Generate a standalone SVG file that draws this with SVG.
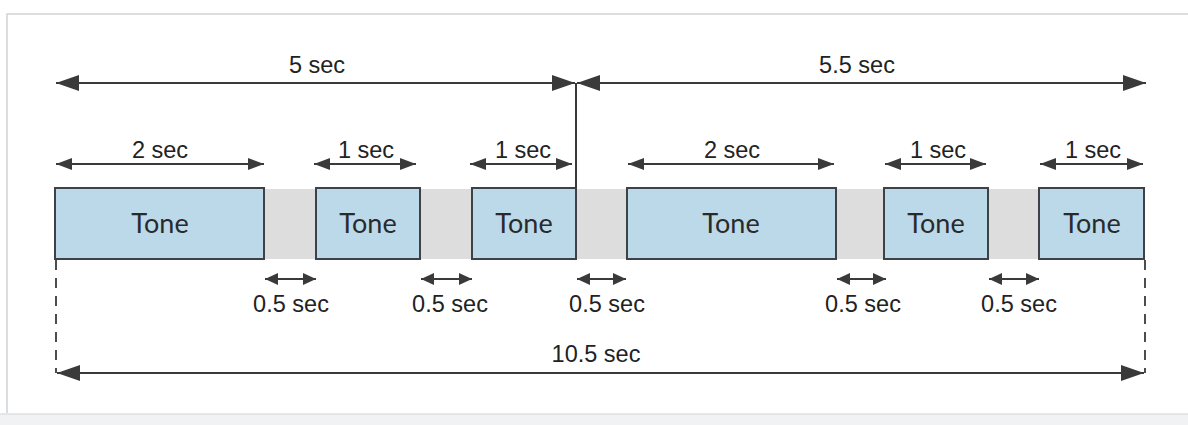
<svg xmlns="http://www.w3.org/2000/svg" width="1188" height="425" viewBox="0 0 1188 425">
  <style>
    .frame { fill: none; stroke: #cfd3d7; stroke-width: 1.5; }
    .gap { fill: #dddddd; stroke: none; }
    .tone { fill: #bcd9ea; stroke: #3e4246; stroke-width: 2; }
    .tone-label { font-family: Lato, "Open Sans", sans-serif; font-size: 27px; fill: #2a2a2a; text-anchor: middle; }
    .lbl { font-family: "Liberation Sans", Arial, sans-serif; font-size: 23.5px; fill: #222; text-anchor: middle; }
    .dim { stroke: #3a3a3a; stroke-width: 2; fill: none; }
    .big { marker-start: url(#bigHead); marker-end: url(#bigHead); }
    .mid { marker-start: url(#midHead); marker-end: url(#midHead); }
    .small { marker-start: url(#smallHead); marker-end: url(#smallHead); }
    .dash { stroke: #3a3a3a; stroke-width: 1.8; stroke-dasharray: 10 8; fill: none; }
  </style>
  <defs>
    <marker id="bigHead" viewBox="0 0 23 16" refX="23" refY="8" markerWidth="23" markerHeight="16" markerUnits="userSpaceOnUse" orient="auto-start-reverse">
      <path d="M0,0 L23,8 L0,16 Z" fill="#3a3a3a"/>
    </marker>
    <marker id="midHead" viewBox="0 0 16 12" refX="16" refY="6" markerWidth="16" markerHeight="12" markerUnits="userSpaceOnUse" orient="auto-start-reverse">
      <path d="M0,0 L16,6 L0,12 Z" fill="#3a3a3a"/>
    </marker>
    <marker id="smallHead" viewBox="0 0 13 12" refX="13" refY="6" markerWidth="13" markerHeight="12" markerUnits="userSpaceOnUse" orient="auto-start-reverse">
      <path d="M0,0 L13,6 L0,12 Z" fill="#3a3a3a"/>
    </marker>
  </defs>

  <rect x="0" y="0" width="1188" height="425" fill="#ffffff"/>
  <g id="frame">
    <path class="frame" d="M7,413 L7,14 L1188,14"/>
    <rect x="0" y="414" width="1188" height="11" fill="#f1f2f4"/>
    <line x1="0" y1="414" x2="1188" y2="414" stroke="#dde0e3" stroke-width="1.5"/>
  </g>

  <g id="gaps">
    <rect class="gap" x="264" y="189" width="52" height="70"/>
    <rect class="gap" x="420" y="189" width="52" height="70"/>
    <rect class="gap" x="576" y="189" width="51" height="70"/>
    <rect class="gap" x="836" y="189" width="48" height="70"/>
    <rect class="gap" x="988" y="189" width="51" height="70"/>
  </g>

  <g id="tone1"><rect class="tone" x="55" y="188" width="209" height="71"/><text class="tone-label" x="160" y="233">Tone</text></g>
  <g id="tone2"><rect class="tone" x="316" y="188" width="104" height="71"/><text class="tone-label" x="368" y="233">Tone</text></g>
  <g id="tone3"><rect class="tone" x="472" y="188" width="104" height="71"/><text class="tone-label" x="524" y="233">Tone</text></g>
  <g id="tone4"><rect class="tone" x="627" y="188" width="209" height="71"/><text class="tone-label" x="731" y="233">Tone</text></g>
  <g id="tone5"><rect class="tone" x="884" y="188" width="104" height="71"/><text class="tone-label" x="936" y="233">Tone</text></g>
  <g id="tone6"><rect class="tone" x="1039" y="188" width="105" height="71"/><text class="tone-label" x="1092" y="233">Tone</text></g>

  <g id="connectors">
    <line class="dim big" x1="56" y1="83" x2="575" y2="83"/>
    <line class="dim big" x1="577" y1="83" x2="1146" y2="83"/>
    <line class="dim" x1="576" y1="83" x2="576" y2="188"/>

    <line class="dim mid" x1="56" y1="164" x2="264" y2="164"/>
    <line class="dim mid" x1="314" y1="164" x2="416" y2="164"/>
    <line class="dim mid" x1="470" y1="164" x2="572" y2="164"/>
    <line class="dim mid" x1="628" y1="164" x2="834" y2="164"/>
    <line class="dim mid" x1="885" y1="164" x2="986" y2="164"/>
    <line class="dim mid" x1="1040" y1="164" x2="1143" y2="164"/>

    <line class="dim small" x1="265" y1="279" x2="316" y2="279"/>
    <line class="dim small" x1="421" y1="279" x2="472" y2="279"/>
    <line class="dim small" x1="577" y1="279" x2="626" y2="279"/>
    <line class="dim small" x1="837" y1="279" x2="886" y2="279"/>
    <line class="dim small" x1="989" y1="279" x2="1039" y2="279"/>

    <line class="dash" x1="56" y1="260" x2="56" y2="373"/>
    <line class="dash" x1="1145" y1="260" x2="1145" y2="373"/>
    <line class="dim big" x1="57" y1="373" x2="1144" y2="373"/>
  </g>

  <g id="labels">
    <text class="lbl" x="317" y="73">5 sec</text>
    <text class="lbl" x="857" y="73">5.5 sec</text>
    <text class="lbl" x="160" y="158">2 sec</text>
    <text class="lbl" x="366" y="158">1 sec</text>
    <text class="lbl" x="523" y="158">1 sec</text>
    <text class="lbl" x="732" y="158">2 sec</text>
    <text class="lbl" x="938" y="158">1 sec</text>
    <text class="lbl" x="1093" y="158">1 sec</text>
    <text class="lbl" x="291" y="312">0.5 sec</text>
    <text class="lbl" x="450" y="312">0.5 sec</text>
    <text class="lbl" x="607" y="312">0.5 sec</text>
    <text class="lbl" x="863" y="312">0.5 sec</text>
    <text class="lbl" x="1019" y="312">0.5 sec</text>
    <text class="lbl" x="596" y="362">10.5 sec</text>
  </g>
</svg>
